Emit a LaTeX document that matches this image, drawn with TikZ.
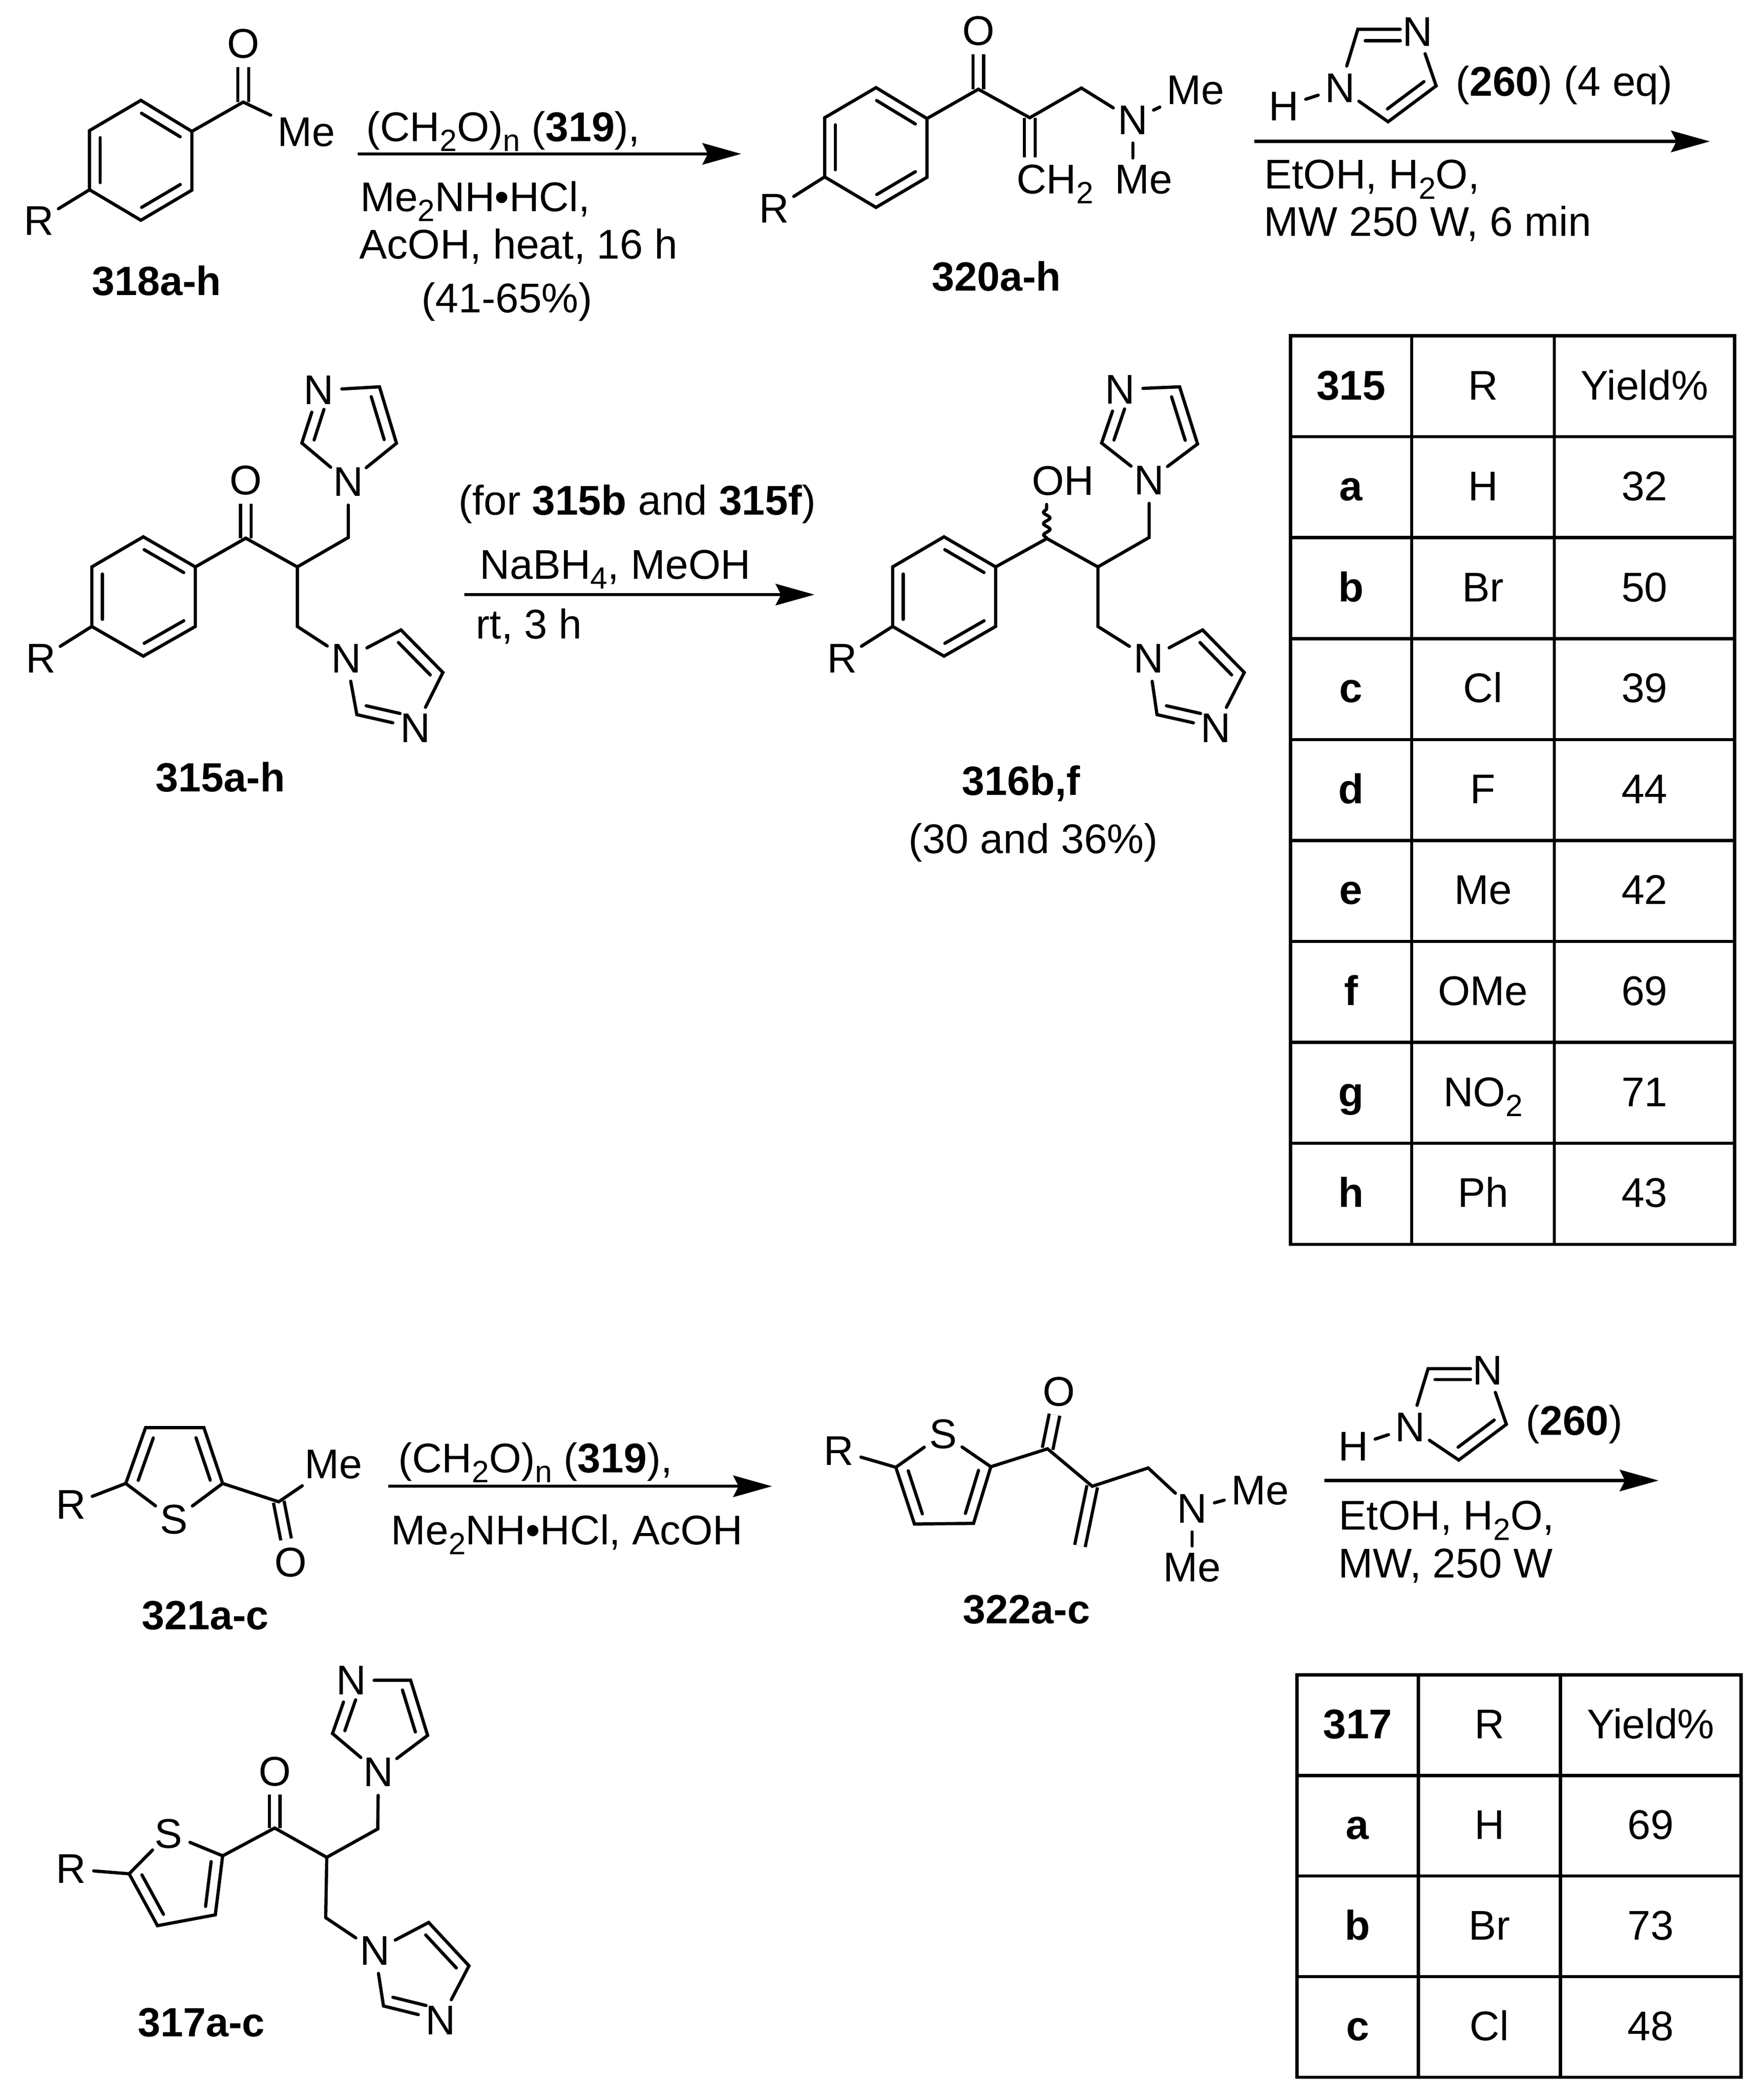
\documentclass[tikz,border=0pt]{standalone}
\usepackage{fontspec}
\setmainfont{Liberation Sans}
\usetikzlibrary{arrows.meta,calc,decorations.pathmorphing}
\newcommand{\innerbond}[4][.12]{\draw ($(#2)!.12!(#3)!8pt!#4:(#3)$) -- ($(#3)!#1!(#2)!8pt!-#4:(#2)$);}
\newcommand{\lowsub}[1]{\raisebox{-.24em}{\fontsize{23}{23}\selectfont #1}}
\tikzset{
  every node/.style={font=\fontsize{31}{34}\selectfont},
  atom/.style={circle,inner sep=0pt,minimum size=32pt},
  grp/.style={inner sep=4pt},
  txt/.style={anchor=base west,inner sep=0pt},
  cmpd/.style={anchor=base,inner sep=0pt,font=\fontsize{30.5}{34}\selectfont\bfseries},
  dblbond/.style={line cap=butt,double,double distance=5.6pt},
  rxn/.style={line cap=butt,-{Stealth[length=29pt,width=16pt,inset=4pt]}},
  cellbox/.style={draw,inner sep=0pt,outer sep=0pt,text height=20pt,text depth=0pt}
}
\begin{document}
\begin{tikzpicture}[x=1pt,y=-1pt,line width=2.4pt,line cap=round]
  \useasboundingbox (0,0) rectangle (1318,1568);

  % 318
  \coordinate (a1) at (105.3,75);
  \coordinate (a2) at (143.4,98.2);
  \coordinate (a3) at (143.4,142.1);
  \coordinate (a4) at (105.3,164.6);
  \coordinate (a5) at (66.9,141.8);
  \coordinate (a6) at (66.9,97.6);
  \coordinate (aC) at (181.8,76.3);
  \node[atom] (aO) at (181.8,32.6) {O};
  \node[grp] (aMe) at (229,98.8) {Me};
  \node[atom] (aR) at (29,165) {R};
  \draw[dblbond] (aC) -- (aO);
  \draw (a2) -- (aC) -- (aMe);
  \draw (a5) -- (aR);
  \node[cmpd] (aL) at (117,220.6) {318a-h};
  \coordinate (s1) at (267.5,115);
  \coordinate (t1) at (554,115);
  \draw[rxn] (s1) -- (t1);
  \node[txt] (u1) at (272.5,105.5) {(CH\lowsub{2}O)\lowsub{n} (\textbf{319}),};
  \node[txt] (u2) at (268,158) {Me\lowsub{2}NH•HCl,};
  \node[txt] (u3) at (267.5,193.4) {AcOH, heat, 16 h};
  \node[anchor=base,inner sep=0pt] (u4) at (379,233.7) {(41-65\%)};

  % 320
  \coordinate (b1) at (654.7,65.5);
  \coordinate (b2) at (692.8,88.6);
  \coordinate (b3) at (692.8,132.5);
  \coordinate (b4) at (654.7,155);
  \coordinate (b5) at (616.3,132.2);
  \coordinate (b6) at (616.3,88);
  \coordinate (bC) at (731.2,66.7);
  \coordinate (bD) at (769.6,88);
  \coordinate (bE) at (808.2,65.8);
  \coordinate (bF) at (769.6,117.7);
  \node[atom] (bO) at (731.2,23) {O};
  \node[atom] (bN) at (846.6,89.7) {N};
  \node[grp] (bMe) at (893.5,67.3) {Me};
  \node[grp] (bMf) at (854.8,134.1) {Me};
  \node[atom] (bR) at (578.7,156) {R};
  \node[txt] (bH) at (758.5,144.8) {CH\lowsub{2}};
  \draw[dblbond] (bC) -- (bO);
  \draw[dblbond] (bD) -- (bF);
  \draw (b2) -- (bC) -- (bD) -- (bE) -- (bN) -- (bMe);
  \draw (bN) -- (bN |- bMf.north);
  \draw (b5) -- (bR);
  \node[cmpd] (bL) at (744.7,217.3) {320a-h};

  \coordinate (r1) at (1014.8,21.9);
  \coordinate (r2) at (1073.3,64.2);
  \coordinate (r3) at (1037.4,91);
  \coordinate (r4) at (1046.5,21.9);
  \coordinate (r5) at (1020.3,30.5);
  \coordinate (r6) at (1046.5,30.5);
  \node[atom] (rN) at (1001.5,65.8) {N};
  \node[atom] (rM) at (1059.5,23.9) {N};
  \node[atom] (rH) at (959.5,79.5) {H};
  \draw (rH) -- (rN) -- (r1) -- (r4);
  \draw (rM) -- (r2) -- (r3) -- (rN);
  \draw (r5) -- (r6);
  \innerbond{r2}{r3}{-90}
  \coordinate (s2) at (937.5,105.7);
  \coordinate (t2) at (1277.9,105.7);
  \draw[rxn] (s2) -- (t2);
  \node[txt] (v1) at (1086.8,71.6) {(\textbf{260}) (4 eq)};
  \node[txt] (v2) at (943.7,141.2) {EtOH, H\lowsub{2}O,};
  \node[txt] (v3) at (943.5,176.6) {MW 250 W, 6 min};

  % 315
  \coordinate (c1) at (107.1,401.2);
  \coordinate (c2) at (146,423.7);
  \coordinate (c3) at (146,468.2);
  \coordinate (c4) at (107.1,490.4);
  \coordinate (c5) at (68.6,468.2);
  \coordinate (c6) at (68.6,423.7);
  \coordinate (cC) at (183.7,402.2);
  \coordinate (cD) at (222.2,423.7);
  \coordinate (cE) at (260.3,401.7);
  \coordinate (cF) at (222.2,468.2);
  \node[atom] (cO) at (183.7,359) {O};
  \node[atom] (cR) at (30.5,492.2) {R};
  \node[atom] (cuN1) at (260.3,360.3) {N};
  \coordinate (cuC2) at (225.6,331.1);
  \node[atom] (cuN3) at (238.3,291.7) {N};
  \coordinate (cuC4) at (283.6,289.1);
  \coordinate (cuC5) at (296.3,331.3);
  \node[atom] (clN1) at (259,492.2) {N};
  \coordinate (clC5) at (299.7,470.8);
  \coordinate (clC4) at (331,502.6);
  \node[atom] (clN3) at (310.3,544) {N};
  \coordinate (clC2) at (266.7,534.1);
  \draw[dblbond] (cC) -- (cO);
  \draw (c2) -- (cC) -- (cD) -- (cE) -- (cuN1);
  \draw (cD) -- (cF) -- (clN1);
  \draw (c5) -- (cR);
  \node[cmpd] (cL) at (164.7,591.8) {315a-h};
  \coordinate (s3) at (347.1,444.4);
  \coordinate (t3) at (608.7,444.4);
  \draw[rxn] (s3) -- (t3);
  \node[txt] (w1) at (341.4,384.9) {(for \textbf{315b} and \textbf{315f})};
  \node[txt] (w2) at (357.5,432.7) {NaBH\lowsub{4}, MeOH};
  \node[txt] (w3) at (354.6,477.5) {rt, 3 h};

  % 316
  \coordinate (d1) at (705.5,401.2);
  \coordinate (d2) at (744.1,423.7);
  \coordinate (d3) at (744.1,468.2);
  \coordinate (d4) at (705.5,490.4);
  \coordinate (d5) at (667.1,468.2);
  \coordinate (d6) at (667.1,423.7);
  \coordinate (dC) at (782.4,402.5);
  \coordinate (dD) at (820.5,423.7);
  \coordinate (dE) at (858.8,401.7);
  \coordinate (dF) at (820.5,468.2);
  \coordinate (dG) at (782.2,377);
  \node[txt] (dO) at (770,369.9) {OH};
  \node[atom] (dR) at (629.3,492.2) {R};
  \node[atom] (duN1) at (858.8,359) {N};
  \coordinate (duC2) at (823.3,331.1);
  \node[atom] (duN3) at (837,291) {N};
  \coordinate (duC4) at (881.6,289.1);
  \coordinate (duC5) at (895,331.8);
  \node[atom] (dlN1) at (858.6,492.2) {N};
  \coordinate (dlC5) at (898.8,470.8);
  \coordinate (dlC4) at (929.9,502.6);
  \node[atom] (dlN3) at (908.7,544) {N};
  \coordinate (dlC2) at (864.7,534.1);
  \draw[decorate,decoration={snake,amplitude=2.4pt,segment length=8.5pt}] (dC) -- (dG);
  \draw (d2) -- (dC) -- (dD) -- (dE) -- (duN1);
  \draw (dD) -- (dF) -- (dlN1);
  \draw (d5) -- (dR);
  \node[cmpd] (dL) at (763,594.4) {316b,f};
  \node[anchor=base,inner sep=0pt] (dY) at (772.3,637.9) {(30 and 36\%)};

  % 321
  \coordinate (e1) at (94,1108.7);
  \coordinate (e2) at (108.8,1067);
  \coordinate (e3) at (152.4,1067);
  \coordinate (e4) at (166.4,1108.7);
  \node[atom] (eS) at (130,1135.8) {S};
  \coordinate (eC) at (208.3,1122.4);
  \node[grp] (eMe) at (249.4,1094.4) {Me};
  \node[atom] (eO) at (217.2,1167.6) {O};
  \node[atom] (eR) at (52.9,1124.5) {R};
  \draw[dblbond] (eC) -- (eO);
  \draw (eS) -- (e1) -- (e2) -- (e3) -- (e4) -- (eS);
  \draw (e4) -- (eC) -- (eMe);
  \draw (e1) -- (eR);
  \innerbond{e1}{e2}{-90}
  \innerbond{e3}{e4}{-90}
  \node[cmpd] (eL) at (153.4,1218) {321a-c};
  \coordinate (s4) at (290.4,1110.8);
  \coordinate (t4) at (577,1110.8);
  \draw[rxn] (s4) -- (t4);
  \node[txt] (x1) at (296.5,1100.5) {(CH\lowsub{2}O)\lowsub{n} (\textbf{319}),};
  \node[txt] (x2) at (291,1154.5) {Me\lowsub{2}NH•HCl, AcOH};

  % 322
  \coordinate (f1) at (669.5,1096.6);
  \node[atom] (fS) at (704.8,1071.7) {S};
  \coordinate (f2) at (740.5,1096.2);
  \coordinate (f3) at (727.6,1138.5);
  \coordinate (f4) at (683.4,1139);
  \coordinate (fC) at (782.9,1082.8);
  \coordinate (fD) at (816.3,1110.8);
  \coordinate (fE) at (858.1,1097.1);
  \coordinate (fF) at (807.1,1155.4);
  \node[atom] (fO) at (791.6,1040.2) {O};
  \node[atom] (fN) at (891,1127.7) {N};
  \node[grp] (fMe) at (941.6,1113.9) {Me};
  \node[grp] (fMf) at (891,1171.4) {Me};
  \node[atom] (fR) at (626.9,1084.2) {R};
  \draw[dblbond] (fC) -- (fO);
  \draw[dblbond] (fD) -- (fF);
  \draw (f1) -- (fS) -- (f2) -- (f3) -- (f4) -- (f1);
  \draw (f2) -- (fC) -- (fD) -- (fE) -- (fN) -- (fMe);
  \draw (fN) -- (fMf);
  \draw (f1) -- (fR);
  \innerbond{f2}{f3}{-90}
  \innerbond{f4}{f1}{-90}
  \node[cmpd] (fL) at (767.2,1213.5) {322a-c};

  \coordinate (q1) at (1067.3,1022.9);
  \coordinate (q2) at (1125.8,1064.5);
  \coordinate (q3) at (1090.2,1091.2);
  \coordinate (q4) at (1099,1022.9);
  \coordinate (q5) at (1072.5,1031);
  \coordinate (q6) at (1099,1031);
  \node[atom] (qN) at (1054,1066.8) {N};
  \node[atom] (qM) at (1111.9,1024.4) {N};
  \node[atom] (qH) at (1011.4,1081) {H};
  \draw (qH) -- (qN) -- (q1) -- (q4);
  \draw (qM) -- (q2) -- (q3) -- (qN);
  \draw (q5) -- (q6);
  \innerbond{q2}{q3}{-90}
  \coordinate (s5) at (989.8,1106.5);
  \coordinate (t5) at (1239.5,1106.5);
  \draw[rxn] (s5) -- (t5);
  \node[txt] (y1) at (1139.2,1072.4) {(\textbf{260})};
  \node[txt] (y2) at (999.5,1143.5) {EtOH, H\lowsub{2}O,};
  \node[txt] (y3) at (999,1179.1) {MW, 250 W};

  % 317
  \coordinate (g1) at (96.5,1400.4);
  \node[atom] (gS) at (126.1,1370.4) {S};
  \coordinate (g2) at (166.4,1387);
  \coordinate (g3) at (160.9,1431.1);
  \coordinate (g4) at (117.7,1439.2);
  \coordinate (gC) at (205.3,1366.2);
  \coordinate (gD) at (244.2,1388.1);
  \coordinate (gE) at (282.3,1366.9);
  \coordinate (gF) at (243.4,1433.2);
  \node[atom] (gO) at (205.3,1323.9) {O};
  \node[atom] (gR) at (52.9,1396.9) {R};
  \node[atom] (guN1) at (282.8,1324.6) {N};
  \coordinate (guC2) at (248.5,1295.6);
  \node[atom] (guN3) at (262.4,1255.8) {N};
  \coordinate (guC4) at (306.9,1255.8);
  \coordinate (guC5) at (319.6,1297);
  \node[atom] (glN1) at (280.2,1457.9) {N};
  \coordinate (glC5) at (320.4,1436.8);
  \coordinate (glC4) at (350.5,1469.2);
  \node[atom] (glN3) at (329.3,1509.8) {N};
  \coordinate (glC2) at (286.6,1499.2);
  \draw[dblbond] (gC) -- (gO);
  \draw (g1) -- (gS) -- (g2) -- (g3) -- (g4) -- (g1);
  \draw (g2) -- (gC) -- (gD) -- (gE) -- (guN1);
  \draw (gD) -- (gF) -- (glN1);
  \draw (g1) -- (gR);
  \innerbond{g2}{g3}{-90}
  \innerbond{g4}{g1}{-90}
  \node[cmpd] (gL) at (150.5,1522.1) {317a-c};

  \foreach \m in {a,b,c,d} {
    \draw (\m1) -- (\m2) -- (\m3) -- (\m4) -- (\m5) -- (\m6) -- cycle;
    \innerbond{\m1}{\m2}{-90}
    \innerbond{\m3}{\m4}{-90}
    \innerbond{\m5}{\m6}{-90}
  }
  \foreach \m in {cu,du,gu} {
    \draw (\m N1) -- (\m C2) -- (\m N3) -- (\m C4) -- (\m C5) -- (\m N1);
    \innerbond[.3]{\m C2}{\m N3}{-90}
    \innerbond{\m C4}{\m C5}{-90}
  }
  \foreach \m in {cl,dl,gl} {
    \draw (\m N1) -- (\m C5) -- (\m C4) -- (\m N3) -- (\m C2) -- (\m N1);
    \innerbond[.3]{\m C2}{\m N3}{90}
    \innerbond{\m C5}{\m C4}{-90}
  }

  \foreach \a/\b/\c [count=\i from 0] in {
    \textbf{315}/R/Yield\%, \textbf{a}/H/32, \textbf{b}/Br/50, \textbf{c}/Cl/39,
    \textbf{d}/F/44, \textbf{e}/Me/42, \textbf{f}/OMe/69,
    \textbf{g}/{NO\lowsub{2}}/71, \textbf{h}/Ph/43} {
    \node[cellbox,minimum width=90.5pt,minimum height=75.44pt] (ta\i) at (1009.75,288.7+75.44*\i) {\a};
    \node[cellbox,minimum width=106.6pt,minimum height=75.44pt] (tb\i) at (1108.3,288.7+75.44*\i) {\b};
    \node[cellbox,minimum width=134.8pt,minimum height=75.44pt] (tc\i) at (1229,288.7+75.44*\i) {\c};
  }
  \foreach \a/\b/\c [count=\i from 0] in {
    \textbf{317}/R/Yield\%, \textbf{a}/H/69, \textbf{b}/Br/73, \textbf{c}/Cl/48} {
    \node[cellbox,minimum width=90.7pt,minimum height=75.2pt] (pa\i) at (1014.65,1289.3+75.2*\i) {\a};
    \node[cellbox,minimum width=106.3pt,minimum height=75.2pt] (pb\i) at (1113.15,1289.3+75.2*\i) {\b};
    \node[cellbox,minimum width=134.8pt,minimum height=75.2pt] (pc\i) at (1233.7,1289.3+75.2*\i) {\c};
  }
\end{tikzpicture}
\end{document}
